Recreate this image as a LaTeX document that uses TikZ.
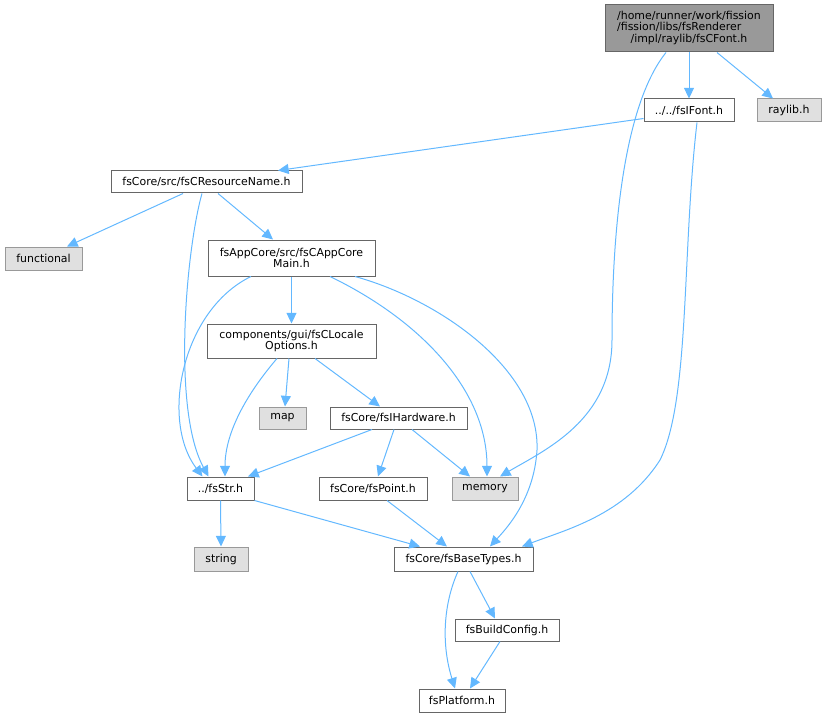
\documentclass[tikz,border=0pt]{standalone}
\usepackage{fontspec}
\setmainfont{DejaVu Sans}
\usetikzlibrary{arrows.meta,calc}
\definecolor{edgeblue}{HTML}{63B8FF}
\definecolor{rootfill}{HTML}{999999}
\definecolor{darkborder}{HTML}{666666}
\definecolor{sysfill}{HTML}{E0E0E0}
\definecolor{sysborder}{HTML}{999999}
\tikzset{
  filebox/.style={draw=darkborder, fill=white, line width=0.75pt, inner sep=0pt, align=center,
    font=\fontsize{8.2}{8.75}\selectfont},
  rootbox/.style={filebox, fill=rootfill},
  sysbox/.style={filebox, draw=sysborder, fill=sysfill},
  dep/.style={draw=edgeblue, line width=0.75pt, -{Triangle[length=8pt,width=7.5pt]}}
}
\begin{document}
\begin{tikzpicture}[x=0.75pt,y=-0.75pt]
\useasboundingbox (0,0) rectangle (826,717);
% nodes
\node[rootbox, minimum width=126pt, minimum height=35.25pt] (root) at (689,28.5)
  {\begin{tabular}{@{}l@{}}/home/runner/work/fission\\/fission/libs/fsRenderer\\\multicolumn{1}{@{}c@{}}{/impl/raylib/fsCFont.h}\end{tabular}};
\node[filebox, minimum width=67.5pt, minimum height=17.25pt] (fsifont) at (689,110.5) {../../fsIFont.h};
\node[sysbox, minimum width=48pt, minimum height=17.25pt] (raylib) at (789,110.5) {raylib.h};
\node[filebox, minimum width=143.25pt, minimum height=16.5pt] (resname) at (206.5,182) {fsCore/src/fsCResourceName.h};
\node[sysbox, minimum width=57.75pt, minimum height=17.25pt] (functional) at (43.5,258.5) {functional};
\node[filebox, minimum width=125.25pt, minimum height=27pt] (appcore) at (291.5,258) {fsAppCore/src/fsCAppCore\\Main.h};
\node[filebox, minimum width=126.75pt, minimum height=25.5pt] (locale) at (291.5,341) {components/gui/fsCLocale\\Options.h};
\node[sysbox, minimum width=35.25pt, minimum height=16.5pt] (map) at (282.5,418) {map};
\node[filebox, minimum width=102.75pt, minimum height=16.5pt] (hardware) at (398.5,418) {fsCore/fsIHardware.h};
\node[filebox, minimum width=50.25pt, minimum height=17.25pt] (fsstr) at (220.5,488.5) {../fsStr.h};
\node[filebox, minimum width=81pt, minimum height=17.25pt] (point) at (373,488.5) {fsCore/fsPoint.h};
\node[sysbox, minimum width=49.5pt, minimum height=17.25pt] (memory) at (485,488.5) {memory};
\node[sysbox, minimum width=40.5pt, minimum height=18pt] (string) at (221,559) {string};
\node[filebox, minimum width=104.25pt, minimum height=18pt] (basetypes) at (463.5,559) {fsCore/fsBaseTypes.h};
\node[filebox, minimum width=78pt, minimum height=16.5pt] (buildconfig) at (507,630) {fsBuildConfig.h};
\node[filebox, minimum width=64.5pt, minimum height=17.25pt] (platform) at (462,700.5) {fsPlatform.h};
% edges
\draw[dep] (root.south) -- (fsifont.north);
\draw[dep] ($(root.south)+(28,0)$) -- ($(raylib.north)+(-16,0)$);
\draw[dep] ($(root.south)+(-23,0)$) .. controls (620,110) and (612,250) .. (612,340)
  .. controls (612,420) and (545,450) .. ($(memory.north)+(15,0)$);
\draw[dep] ($(fsifont.south west)+(0,-4)$) -- ($(resname.north)+(71.5,0)$);
\draw[dep] ($(fsifont.south)+(8,0)$) .. controls (682,250) and (690,400) .. (660,460)
  .. controls (625,515) and (565,530) .. ($(basetypes.north)+(58.5,0)$);
\draw[dep] ($(resname.south)+(-23.5,0)$) -- ($(functional.north)+(23.5,0)$);
\draw[dep] ($(resname.south)+(11.5,0)$) -- ($(appcore.north)+(-18.5,0)$);
\draw[dep] ($(resname.south)+(-4.5,0)$) .. controls (186,250) and (172,410) .. ($(fsstr.north)+(-12,0)$);
\draw[dep] ($(appcore.south)+(-40.5,0)$) .. controls (182,310) and (160,420) .. ($(fsstr.north)+(-18,0)$);
\draw[dep] (appcore.south) -- (locale.north);
\draw[dep] ($(appcore.south)+(38.5,0)$) .. controls (420,320) and (487,390) .. ($(memory.north)+(2,0)$);
\draw[dep] ($(appcore.south)+(63.5,0)$) .. controls (440,300) and (540,370) .. (537,450)
  .. controls (534,500) and (505,530) .. ($(basetypes.north)+(26.5,0)$);
\draw[dep] ($(locale.south)+(-14.5,0)$) .. controls (250,390) and (225,430) .. ($(fsstr.north)+(4.5,0)$);
\draw[dep] ($(locale.south)+(-2.5,0)$) -- ($(map.north)+(2.5,0)$);
\draw[dep] ($(locale.south)+(23.5,0)$) -- ($(hardware.north)+(-18.5,0)$);
\draw[dep] ($(hardware.south)+(-26.5,0)$) -- ($(fsstr.north)+(27.5,0)$);
\draw[dep] ($(hardware.south)+(-4.5,0)$) -- ($(point.north)+(5,0)$);
\draw[dep] ($(hardware.south)+(13.5,0)$) -- ($(memory.north)+(-15,0)$);
\draw[dep] (fsstr.south) -- (string.north);
\draw[dep] (fsstr.south east) -- ($(basetypes.north)+(-43.5,0)$);
\draw[dep] ($(point.south)+(14,0)$) -- ($(basetypes.north)+(-16.5,0)$);
\draw[dep] ($(basetypes.south)+(6.5,0)$) -- ($(buildconfig.north)+(-12,0)$);
\draw[dep] ($(basetypes.south)+(-5.5,0)$) .. controls (445,600) and (440,640) .. ($(platform.north)+(-7,0)$);
\draw[dep] ($(buildconfig.south)+(-7,0)$) -- ($(platform.north)+(8,0)$);
\end{tikzpicture}
\end{document}
